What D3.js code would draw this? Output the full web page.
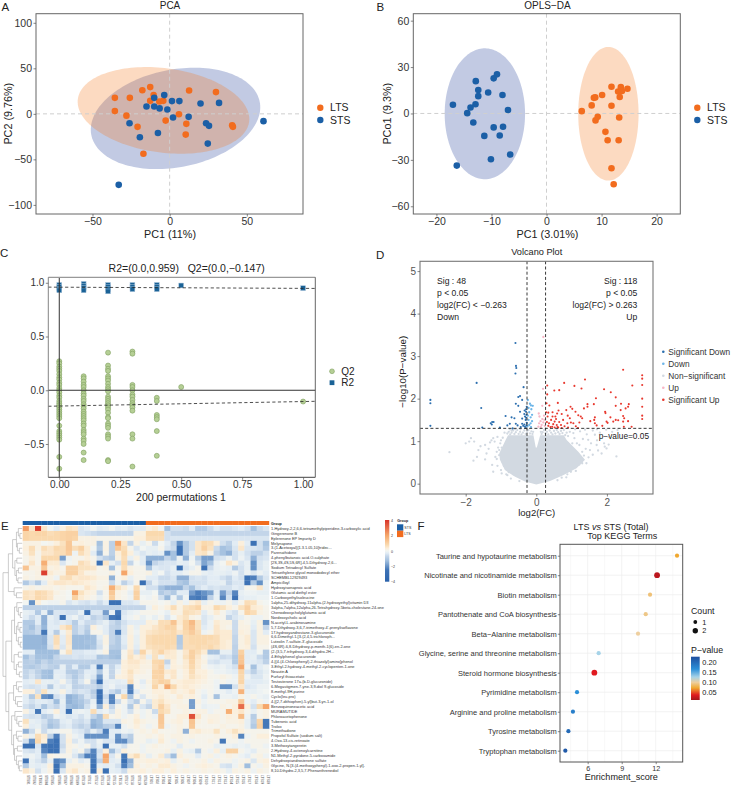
<!DOCTYPE html>
<html>
<head>
<meta charset="utf-8">
<script src="https://cdn.jsdelivr.net/npm/d3@7/dist/d3.min.js"></script>
<style>
html,body{margin:0;padding:0;background:#fff}
svg{display:block}
text{font-family:"Liberation Sans",Arial,sans-serif;fill:#222}
</style>
</head>
<body>
<svg id="fig" width="731" height="785"></svg>
<script>
// ---- PCA scores ----
const pcaLTS = [[-35.5,17.6],[-35.5,3],[-25.8,17.6],[-28,-2],[-20.8,-14.3],[-17.7,26],[-12.6,29.4],[-10.4,20.6],[-12.6,14.3],[-6.7,13.6],[-4.1,14.3],[-2.6,-7.4],[6,-0.4],[12.6,25.7],[30,23.9],[10.8,-11],[10.4,-22.8],[40.5,-12.5],[41,-14.3],[-17,-43.8]];
const pcaSTS = [[-33,-78],[-26,-10.3],[-19.3,-25.7],[-15,8],[-10,17.6],[-10,8],[-6.5,6],[-3.5,20.6],[-1.5,4.8],[1.5,14],[6.3,14],[2.2,-4],[12.3,-3.3],[-7.6,-21],[20,11.4],[32,12],[23.6,-10.3],[25.5,-13.2],[24.7,-32.7],[60.8,-8]];
// centre x, centre y, half width, half height, correlation
const pcaEllipseLTS = [-4,3.8,55.6,47.6,-0.2];
const pcaEllipseSTS = [3.8,-5,54.9,55.7,0.22];

// ---- OPLS-DA scores ----
const oplsLTS = [[6.4,1.5],[8.2,5.2],[8.6,10.1],[8.85,10.4],[10.1,11.9],[8.9,-4.5],[9.3,-2.2],[10.7,-11.9],[11.1,-17.3],[11.8,17.3],[11.8,5],[11.8,-35.4],[12.2,-45.8],[13.1,-17.3],[13.2,-2.6],[13,14.2],[13.5,17],[13.7,14.5],[13.3,10.6],[14.7,16]];
const oplsSTS = [[-17,5.6],[-16.3,-33.7],[-14.4,0.2],[-13.8,3.9],[-12.9,6],[-13.3,-5.8],[-12.85,20.9],[-12.4,15.1],[-12.4,11.2],[-11.3,-14.5],[-10.6,13.6],[-10.1,-29.6],[-9.6,-9],[-9.6,22.7],[-9,25.3],[-8.5,-14.2],[-8,11.9],[-7.9,-8.6],[-7,2.2],[-6.6,-26.5]];
const oplsEllipseLTS = [11.24,-0.2,5.48,43.2,0];
const oplsEllipseSTS = [-11.2,-0.2,7.3,42.3,0];

// ---- Permutation test ----
const q2Runs = [
 [0,[.27,.25,.22,.2,.18,.15,.12,.1,.07,.05,.02,0,-.02,-.05,-.07,-.1,-.12,-.14,-.16,-.18,-.2,-.22,-.24,-.26,-.33,-.38,-.4,-.42,-.44,-.46,-.62,-.73]],
 [.1,[.13,.11,.08,.05,.03,0,-.03,-.05,-.08,-.1,-.13,-.15,-.17,-.2,-.22,-.24,-.26,-.28,-.31,-.33,-.37,-.39,-.41,-.45,-.47,-.5,-.58,-.65]],
 [.2,[.35,.23,.2,.18,.13,.11,.09,.06,.03,.01,-.01,-.06,-.08,-.1,-.12,-.14,-.16,-.18,-.21,-.25,-.26,-.31,-.33,-.35,-.41,-.43,-.45,-.65,-.66]],
 [.3,[.36,.34,.05,.03,0,-.04,-.06,-.09,-.12,-.14,-.16,-.19,-.41,-.45,-.71]],
 [.4,[-.07,-.1,-.23,-.25,-.27,-.38,-.61]],
 [.5,[.03]],
 [1,[-.105]]
];
const r2Runs = [
 [0,[.98,.96,.94,.93]],[.1,[.99,.97,.95,.93]],[.2,[.98,.96,.94,.92]],[.3,[.98,.96,.94]],[.4,[.98,.96,.94]],[.5,[.975]],[1,[.95]]
];
const r2Fit = [[0,.959],[1,.948]];
const q2Fit = [[0,-.147],[1,-.105]];

// ---- Volcano ----
const sigDown = [[-3,1.97],[-3,1.89],[-3,1.36],[-1.69,2.37],[-1.56,1.78],[-1.53,1.32],[-1.29,1.42],[-1.25,1.45],[-1.21,1.45],[-1.26,1.39],[-1.03,1.32],[-.87,1.59],[-.82,1.37],[-.75,1.41],[-.67,1.3],[-.7,1.56],[-.59,3.31],[-.575,2.77],[-.566,2.72],[-.59,2.59],[-.36,2.27],[-.46,2.06],[-.51,2.04],[-.58,1.88],[-.51,1.83],[-.4,1.97],[-.62,1.54],[-.58,1.41],[-.53,1.37],[-.4,1.53],[-.46,1.69],[-.27,1.81],[-.29,1.69],[-.34,1.64],[-.32,1.58],[-.3,1.5],[-.34,1.39],[-.27,1.43],[-.32,1.34],[-.37,1.36],[-.28,1.62],[-.29,1.55],[-.3,1.31],[-.33,1.72],[-.29,1.75],[-.4,1.41],[-.44,1.33],[-.28,1.37]];
const lightDown = [[-.24,1.97],[-.18,1.88],[-.15,1.84],[-.1,1.83],[-.22,1.78],[-.14,1.75],[-.2,1.68],[-.12,1.62],[-.16,1.56],[-.24,1.6],[-.22,1.5],[-.12,1.47],[-.16,1.42],[-.2,1.38],[-.25,1.35],[-.15,1.33]];
const lightUp = [[.2,3.45],[.19,2.23],[.17,1.83],[.07,1.65],[.09,1.58],[.17,1.52],[.22,1.6],[.12,1.47],[.08,1.42],[.2,1.44],[.15,1.38],[.24,1.36],[.06,1.34],[.13,1.33],[.23,1.5]];
const sigUp = [[3,2.55],[3,2.47],[3,2.32],[3,2],[3,1.81],[3,1.6],[3,1.52],[2.46,2.68],[1.38,2.45],[.79,2.37],[.31,2.31],[1.08,2.3],[1.28,2.24],[2.72,2.31],[1.92,2.22],[2.11,2.15],[.31,2.1],[.51,2.19],[.65,2.2],[1.69,2.01],[2.25,2.03],[.29,1.89],[.61,1.9],[.37,1.84],[.97,1.81],[1.02,1.76],[2.4,1.88],[2.62,1.87],[2.6,1.81],[2.53,1.77],[2.25,1.83],[1.45,1.87],[1.45,1.81],[1.63,1.87],[1.35,1.77],[.63,1.72],[.85,1.73],[1.95,1.69],[1.96,1.66],[1.11,1.69],[2.39,1.73],[.28,1.68],[.34,1.67],[.46,1.68],[.59,1.65],[.32,1.58],[.46,1.58],[.54,1.58],[.72,1.64],[.89,1.6],[.95,1.54],[1.19,1.61],[1.26,1.58],[1.3,1.54],[1.66,1.56],[1.64,1.5],[1.53,1.47],[1.66,1.42],[1.71,1.37],[1.87,1.36],[1.99,1.46],[2.1,1.56],[2.02,1.43],[2.18,1.46],[2.25,1.5],[2.32,1.49],[2.46,1.59],[2.49,1.54],[2.46,1.46],[2.6,1.47],[2.48,1.34],[2.7,1.34],[.3,1.45],[.36,1.42],[.42,1.5],[.48,1.4],[.52,1.46],[.58,1.38],[.45,1.34],[.52,1.32],[.6,1.33],[.65,1.45],[.7,1.38],[.76,1.5],[.8,1.35],[.88,1.42],[.98,1.44],[1.05,1.42],[1.12,1.35],[.34,1.36],[.56,1.52],[.62,1.32],[.72,1.31],[.4,1.33],[1.22,1.44],[1.18,1.31],[.9,1.32]];
// outline of the dense part of the non-significant cloud
const cloudOutline = [[0,-.02],[-.32,.05],[-.6,.16],[-.89,.32],[-1.03,.56],[-1.05,.71],[-.89,.99],[-.8,1.14],[-.08,1.14],[-.015,.85],[.015,.85],[.11,1.14],[.78,1.14],[.86,1.03],[1.19,.75],[1.38,.56],[1.14,.36],[.76,.2],[.39,.06]];
const nonSig = [[-2.46,.74],[-2,.95],[-1.9,.99],[-1.85,1.07],[-1.76,.99],[-1.64,.79],[-1.78,.54],[-1.45,.91],[-1.41,.71],[-1.45,.57],[-1.22,.28],[-1.27,1.02],[-1.22,1.07],[-1.18,.99],[-1.05,.79],[-1.31,.97],[-1,.32],[-1.05,.67],[-1.12,.75],[-1.1,.42],[-1.12,.58],[-.98,.85],[-1.02,.95],[-.95,1.08],[-.9,1.2],[-1.1,1.1],[-.98,.24],[-.85,.22],[-.72,.12],[-.78,.27],[-.92,.42],[-.7,1.25],[-.6,1.28],[-.45,1.28],[-.25,1.27],[-.75,1.28],[-1.68,.63],[-1.35,.82],[-1.58,.88],[-1.16,.63],[-1.25,.44],
[.9,1.12],[1.08,1.07],[1.22,.91],[1.47,1.03],[1.52,.79],[1.71,.91],[1.94,.87],[1.99,.83],[1.85,.71],[2.27,.64],[1.42,.48],[1.28,.56],[1.05,1.19],[1.24,1.23],[1.43,1.16],[1.66,1.15],[1.92,.95],[1.6,1.25],[1.8,1.2],[2.05,1.1],[2.15,1.22],[1.3,.75],[1.35,.66],[1.48,.62],[1.4,.82],[1.15,.95],[1.02,.95],[.95,1.22],[.9,.95],[1.22,.45],[1.12,.3],[.98,.28],[.88,.22],[.72,.14],[1.32,1.05],[1.55,.95],[1.75,.78],[1.6,.68],[1.72,1.02],[1.1,1.28],[1.38,1.27],[1.72,1.28],[1.98,1.27],[2.3,1.26],[2.05,.92],
[-.82,1.18],[-.78,1.22],[-.74,1.16],[-.7,1.2],[-.66,1.25],[-.62,1.17],[-.58,1.21],[-.54,1.26],[-.5,1.17],[-.46,1.22],[-.42,1.16],[-.38,1.2],[-.34,1.25],[-.3,1.17],[-.26,1.21],[-.22,1.26],[-.18,1.18],[-.14,1.23],[-.11,1.17],[-.09,1.22],[.13,1.22],[.15,1.17],[.18,1.21],[.22,1.26],[.26,1.18],[.3,1.22],[.34,1.16],[.38,1.25],[.42,1.2],[.46,1.16],[.5,1.24],[.54,1.18],[.58,1.26],[.62,1.21],[.66,1.17],[.7,1.24],[.74,1.19],[.78,1.26],[.82,1.14],[.86,1.2],
[.95,.3],[1.05,.45],[1.2,.62],[1.3,.48],[.85,.15],[.6,.08],[-.48,.06],[-.65,.22],[-.82,.2],[-.95,.5],[-1.08,.85],[-1,1.02],[-.92,.62]];

// ---- Heatmap ----
const metaboliteNames = ["1-Hydroxy-2,2,6,6-tetramethylpiperidine-3-carboxylic acid","Gingerenone B","Eplerenone EP Impurity D","Melynapone","3-(1-Acetoxyal)[1.3.1.05,10]tridec...","Parenathidone","4-phenylbutanoic acid-O-sulphate","[2S,3S,4S,5S,6R]-4,5-Dihydroxy-2,6...","Sodium Tetradecyl Sulfate","Tetraethylene glycol monododecyl ether","SCHEMBL12929493","Ampicilloyl","Hydroxyisonaproic acid","Glutamic acid diethyl ester","1-Carboxyethylisoleucine","1alpha,25-dihydroxy-11alpha-(2-hydroxyethyl)vitamin D3","3alpha,7alpha,12alpha,26-Tetrahydroxy-5beta-cholestane-24-one","Chenodeoxycholylglutamic acid","Nordeoxycholic acid","N-acetyl-L-arabinosamine","5,7-Dihydroxy-3,6,7-trimethoxy-4'-prenylisoflavone","17-hydroxyandrostane-3-glucuronide","6,6-Dimethyl-1-[3-(2,4,5-trichloroph...","Luteolin 7-sulfate-3'-glucoside","(4S,6R)-6,8-Dihydroxy-p-menth-1(6)-en-2-one","(2-(3,5,7-trihydroxy-3,4-dihydro-2H...","4-Ethylphenol glucuronide","4-[(4-(4-Chlorophenyl)-2-thiazolyl)amino]phenol","3-Ethyl-2-hydroxy-4-methyl-2-cyclopenten-1-one","Neautin A","Furfuryl thioacetate","Testosterone 17a-(b-D-glucuronide)","6-Megastigmen-7-yne-3,9-diol 9-glucoside","8-methyl-9H-purine","Cyclo(leu-pro)","4-[(2,7-dithiophen)-5-yl]but-3-yn-1-ol","Benzoquinoneacetic acid","MURAMUTIDE","Phloroacetophenone","Tuberonic acid","Trolox","Trimethadione","Propofol Sulfate (sodium salt)","4-Oxo-13-cis-retinoate","3-Methoxytangeretin","2-Hydroxy-4-octenoylcarnitine","N1-Methyl-2-pyridone-5-carboxamide","Dehydroepiandrosterone sulfate","Glycine, N-[3-(4-methoxyphenyl)-1-oxo-2-propen-1-yl]-","8,10-Dihydro-2,3,5,7-Phenanthrenediol"];
const sampleNames = d3.range(1,21).map(i=>"STS"+String(i).padStart(2,"0")).concat(d3.range(1,21).map(i=>"LTS"+String(i).padStart(2,"0")));
const heatValues = [
[2.2,.5,3.8,.5,0,-.3,.2,.6,.5,-.4,-.3,0,-.3,-.2,0,-.3,-.2,-.4,-.3,-.3,.2,.4,0,-1.2,-.5,-.5,-.6,-.3,-1,-1,-.6,-.3,-.5,-.5,-.4,-.3,-.5,-1.2,-.6,-.4],
[.9,.8,.9,.9,.7,.8,.9,1,1,-.4,-.5,-.6,-.7,-.7,-.7,-.7,-.7,-.7,.2,.2,.8,.8,.8,-.5,-.7,-.7,-.7,-.7,-.7,-.7,-.7,-.7,-.7,-.7,-.7,-.7,-.7,-.7,-.7,-.7],
[.9,.8,.8,.8,.8,.8,.9,1,.9,.2,.2,.2,.1,.1,.1,.1,.1,.1,.3,.3,.7,.7,.7,-.5,-.4,-.4,-.4,-.4,-.4,-.4,-.4,-.4,-.4,-.4,-.4,-.4,-.4,-.4,-.4,-.4],
[.2,.2,.2,0,.1,.3,.6,1.2,.2,.3,.2,.2,-1.2,.2,-.8,2,.5,-.7,.2,-.2,.1,-.6,0,-.3,-.7,-2,-1,-.5,.5,.8,.7,.3,-.5,-.8,-.3,.3,-.3,-2.5,-.5,-1.2],
[.3,.7,.2,.7,.5,.8,.7,1.2,.7,1,.4,0,-1,.2,-.8,1.2,.7,.1,-.4,0,-.2,-.2,.1,-.4,-.6,-2.5,-1,-.5,.5,1,.6,-.6,-1.2,-1,-.4,.5,-.4,-.4,-.5,-1],
[.2,.6,.1,.5,.5,.7,.7,1.1,-.1,.7,.4,-.3,-1.5,.1,-.8,.3,.8,.3,-.2,-.4,-.2,-.3,-.2,-2,-1.2,-2.5,-1,-.3,.5,.6,.2,-.8,-1.2,-1.5,-.5,-.2,-.5,-.8,-.8,-.5],
[.1,.3,.1,.8,.8,.8,-1.8,-.1,.1,.1,.3,.1,-.5,-.8,-1,.2,.7,-.2,.2,-.3,-1.5,-1.5,-1.5,-.7,-1.2,-.1,-1.5,-.1,-.9,-1.8,-1.8,-.5,-.4,-.1,-.5,-.1,-.4,-1.5,-.5,-.4],
[.1,.5,.1,1.8,.4,.4,-.4,0,.1,.7,.5,.2,-2.5,.5,-.2,-.5,.8,-.7,0,-.3,-2,-.7,-.5,-.4,-.4,-.2,-.3,0,-.5,-1.7,-1.2,-.2,0,.5,.2,-.4,-.2,-2,-.4,-.2],
[1.3,.2,.2,1.2,.2,.3,.1,1,1,.6,.6,.5,.1,.2,-1.2,.1,.7,.2,.1,.1,-1.2,-.3,-.4,-.4,-.2,-2.5,-.4,-.2,.1,-2.5,-.6,-.2,-.1,-.2,-1,-.5,-.2,-2,-.4,-.2],
[.1,.1,.2,3.8,.4,.2,.2,1,1,.5,.2,.2,.1,.1,.2,0,2,.3,.1,.1,.2,-.2,0,-.5,-.3,-.3,-.1,.1,.1,-.2,-.3,-.2,-.2,-.3,-.1,-.5,-.1,-.4,-.1,-.3],
[.2,.1,.2,.1,.2,-.1,.6,.7,.4,.5,.5,.4,.2,.2,-1.5,.1,.3,-.2,.1,.1,-.3,-.3,-.6,-.6,-.4,-1.5,-1.5,-.5,-.4,-.5,-.3,-.3,-.5,-.7,-.3,-.5,-2.5,-2.3,-1,-.4],
[-1,-.5,-1,-.3,.3,.5,.5,.4,.5,.4,.3,.2,.1,.1,-.6,-.1,-.8,-.4,.1,-2.8,-.7,-.2,-.5,-.5,-.5,-1,-1.2,-.5,-.5,-.5,-.3,-.3,-.2,-.7,-.4,-.4,-2.5,-1,-2,-.2],
[.1,.2,.1,.2,.2,.1,.2,.1,.1,.1,.5,.3,.1,.2,1.8,.6,.3,0,.8,0,-.5,-.5,-1.2,-1.5,-1.5,-1.5,-.7,-1.2,-.5,-.3,-.5,-.4,-.5,-.5,-.3,-.4,.1,.1,.5,-.2],
[.6,.5,.8,.7,.5,.2,.1,0,2,.6,.3,.2,-.5,.1,1.2,.2,.1,-.2,1,-.2,-.2,0,-1,-.7,-1,-.3,-.3,-1.8,-2.3,-2,-1.7,-.3,-1.8,-.7,-2.2,-.2,-.1,-.1,-.2,-.2],
[.6,.5,.8,.7,.5,.1,.1,0,1,.4,.2,.1,-.2,.1,1,.2,.1,-.1,1,0,-.1,.1,-.5,-1.4,-.1,-1,-.1,-2.3,-2.4,-2.2,-.8,-.2,-2.2,-.5,-2.5,-.3,-.2,-.2,-.1,-.1],
[0,-2,.3,0,-.1,-.1,.1,-.4,-.2,-.4,-.5,-.3,-.6,-.3,-2.6,-2.6,-.4,-.4,-.3,.1,.1,.1,0,.1,-.2,.2,-.1,.3,.5,-.2,.1,-.1,-.1,.1,-.3,.1,.7,.6,.1,0],
[-.8,-.8,-.8,-.8,-.8,-.8,-.8,-.8,-.8,-.8,-.8,-.8,-.8,-.8,-.8,-.8,-.7,-.7,-.7,-.7,-.1,.3,.1,.3,.7,.2,.6,.7,.9,.2,.2,.8,.6,.3,.1,.6,1,.4,.3,.1],
[-.2,-.3,-1,-.2,-1.5,-.4,-.4,-.5,-.5,-.2,-2.5,-.4,-.4,-1.8,-.2,-2.4,-.4,-.2,-.1,.1,.1,.1,0,-.2,.3,.2,.7,.6,.5,-.3,.1,.4,.1,-.3,-.5,.1,.9,.7,.2,.1],
[-.3,-.6,-.3,-1.5,-.2,-.4,-2.5,-.3,-.1,-.5,-.3,-.8,-.6,-1,-2.4,-2.7,-.3,-.1,.1,-.2,0,-.2,.1,-.4,0,.4,.6,.2,.1,-.4,-.2,.1,.1,-.7,-.4,-.2,.1,-.1,-.1,.1],
[-1,-1,-.3,-1.5,-.3,-.4,-.3,-.4,-.9,-.3,-.6,-.6,-.4,-.2,-.6,-.9,-.5,-.3,-.3,-.3,.3,.2,.7,.7,1.3,.4,.9,1.5,.6,-.4,-.1,.4,.2,.2,-.6,.2,.1,-.2,.2,-2],
[-.9,-1.2,-.6,-1.4,-.3,-.3,.5,.8,-.8,-.5,-.8,.3,-.1,-.3,-.7,-.8,-.4,.2,-.2,.3,.3,.5,.7,.9,.9,.3,.9,1.3,.6,-.3,-.1,.5,.2,.1,-.6,.2,.2,-.3,.2,-.7],
[-1,-.9,-.6,-2.4,-.3,-.9,-.1,.4,-.8,-.5,-1,.1,.1,-.3,-.7,-2.3,-.4,.2,-.1,.3,.5,.6,.7,.7,.8,.5,.8,1.1,.7,-.1,.1,.5,.4,.4,-.6,.3,.2,-.4,.2,-.3],
[-1.4,-1.4,-1.4,-1.5,-.4,.7,-.3,.5,-1.3,-1.3,-1.3,-1.2,-.3,.2,-.7,-1,-.3,.3,-.2,.3,.7,.8,.8,.8,.8,-1,.7,.8,.8,.8,.8,.7,.4,.4,-.7,.2,.4,-.4,.2,.2],
[-1.4,-1.4,-1.4,-1.5,-.4,.7,-.3,.5,-1.3,-1.3,-1.2,-1.2,-.4,.2,-.7,-1,-.3,.3,-.2,.3,.7,.8,.8,.8,.8,-1,.7,.8,.8,.8,.7,.7,.4,.3,-.7,.2,.4,-.4,.2,.2],
[-1.4,-1.4,-1.4,-1.4,-.5,.5,-.4,.4,-1.3,-1.3,-1.3,-1.1,-.5,.1,-.9,-1,-.4,.3,-.3,.3,.6,.7,.7,.8,.7,-.9,.7,.7,.8,.7,.8,.6,.4,.3,-.8,.2,.3,-.5,.1,.1],
[-.3,-.3,-1.3,-1.3,-1.3,-1.3,.1,.6,-.4,-.4,-.3,-.3,-.1,.2,-1.2,-1.2,.1,.5,-.5,.9,.3,.6,.9,.5,.4,.1,.5,1,.7,.4,-1.2,-1.2,-.2,-.2,-.8,1,-.3,-.3,0,-1],
[-1.2,-.7,-1.2,-1.2,-1.3,-.7,-.5,-.5,-.4,-.5,-.4,-.4,-1.1,-1,-1.2,-1.3,.1,.6,.3,.5,-.2,.6,-.1,.4,.4,.1,.6,1,.5,.1,-.2,-.3,-.6,-.5,-1,1.2,-.3,-.2,-.6,-1],
[-.9,-.8,-1.1,-.7,-1,-.8,-.8,-.8,-.8,-.8,-.8,-.8,-.8,-.8,-.8,-.8,.3,.5,.5,.3,.2,.8,.9,-.7,.3,.1,.4,.9,.4,.2,-.4,-.5,-.3,-.3,-1,1.3,-.3,-.3,-.4,-.8],
[-.9,-1,-.8,-.6,-.8,-.9,-.2,-.8,-.3,-1,-1,-.3,-2.3,-.2,-.7,-.3,.3,.4,.4,.2,.2,.7,1,-.3,.3,.2,.4,.8,.4,.1,-.1,-.2,-.1,-.3,-.5,1.9,-.1,-1.2,-.3,-.1],
[-.7,-.5,-.8,-1.2,-1.3,-.3,-.3,-.9,-1,-.7,-.3,-.3,-1,-.1,-.7,-.1,.3,.6,.3,.2,.1,.9,1,.4,.5,.1,.3,.7,.3,.3,.1,-.1,-.1,-.2,-.3,.9,-.4,-.8,-.4,-.2],
[-.7,-.4,-.7,-1.2,-1.3,-.2,-.3,-.6,-1,-.6,-.2,-.4,-1.8,-.1,-.7,.2,.3,.5,.1,.1,.1,.9,.9,.2,.5,.1,.3,.6,.4,.3,.1,.1,.2,.1,-.1,.8,-.1,-.4,-.4,-.1],
[-.3,-.2,.5,-.2,-.2,-.3,.1,-.4,-.8,-.4,.1,-.8,-2.5,-.3,-.2,-.3,-.2,.7,.1,-.3,.2,.7,1,.9,.2,.3,.4,.4,.3,.2,.1,-.1,.1,-.1,-.1,.9,-.3,-.3,-.3,-.2],
[-.4,-.5,-.4,-.3,-1,-.2,-.4,-.2,-.8,-.7,-.6,-.6,-.9,-.3,-.1,-.4,-.4,-2.2,.1,-.1,.1,.9,.3,1.9,.8,.3,.4,.3,.2,.1,.1,-.1,-2,-2,-.5,.5,-.4,-.3,-.1,-.1],
[.3,.3,-.5,.6,-.2,-.2,.2,-.3,-.6,-.4,-.5,-.9,-2.5,-.3,-.6,-1,-.3,-2.3,-.3,.1,.1,.3,.3,.2,.4,.2,.3,.5,.1,-.1,.1,-.1,-.1,-.3,-.1,1.7,-.2,-.2,-.1,0],
[-.3,-1,.6,-2,-2.2,-.5,-.3,-1.5,-1.3,-.9,-.4,-.7,-2.5,-.6,-2.2,.1,.8,-1.2,.1,-.4,.1,.2,.4,.2,.1,.4,.2,.3,.1,-.3,.1,-1.2,-.1,-.1,-.2,.2,-.1,.1,-.1,-.2],
[-.3,-.5,-.3,-.3,-.4,-1.3,-.2,-1.5,-1.3,-1.1,-.7,-.2,-2.4,-.4,-2.2,-.6,.1,-.5,-.9,.1,-.4,.4,.6,.3,.2,.2,.1,-1.8,.2,-.1,.1,.1,.1,.2,.2,1.2,-.1,-.3,.1,-.1],
[-.5,-.7,-.4,-1.1,-.5,-.7,-.3,-1.3,-1.4,-1.2,-.5,-.1,-1.5,.3,-.7,.1,-.1,-1,.2,-.4,-.7,.4,1,.5,.1,.2,.2,-1.8,.1,-.2,-.1,-.1,.2,.1,.3,3,.3,-.5,.8,2],
[.2,-.3,-2.4,-.3,-.1,.3,-.3,-2.6,-.2,-.1,-.2,.7,-.3,-.1,-.4,.2,-.1,-.5,.1,-.1,.1,-.6,.8,.6,.1,.1,.2,.1,.2,.2,-.1,.1,.1,1.8,.3,.5,.1,-.2,.1,.2],
[-.4,-.5,-.4,-.9,-.7,-.1,-.2,-.4,-.3,-.5,-.2,-.7,-1.2,.7,.1,.2,-.1,.1,.3,-.1,.1,-.1,1.2,.1,.1,.3,.3,3.5,.5,.1,.2,.2,.1,.3,.2,1.5,-.1,-.9,.1,.2],
[.6,-.2,-.3,-.5,-1,-.8,-.3,-.2,-.5,-.6,-.4,-1.4,-1.2,-.4,-.4,-.4,.2,.1,.4,.2,.1,.1,1.2,.1,.2,.3,.1,1.3,.2,.1,.3,.2,.1,.2,.2,.3,-.2,-.8,.9,-2.4],
[.3,-.3,-.2,-.6,-1.2,-.9,-.4,-.3,-.6,-.8,-.6,-1.5,-1.3,-.9,-.8,-2.2,-.1,.1,.3,.1,-.1,.1,1.1,-.1,.1,.2,.1,1.2,.1,.1,.1,.1,.2,.1,.1,.2,-.2,-1,1,-2.4],
[-1.5,-.6,.1,-.6,-.2,-.1,.1,.1,-.3,-.4,-.7,-.2,-.6,-2.3,-.3,-.3,-.1,-.2,.1,.2,.1,.3,.1,.1,.1,.2,-1.5,.3,.4,.2,.2,.6,.1,.3,.6,.3,.1,.1,.1,.1],
[.2,-.2,.7,.4,-.8,-2.3,-.5,.2,-.1,-.3,-2,-2,-2,-2,-.3,-2,-.6,-.9,.1,.1,.2,.1,.3,.1,.2,.2,.1,.2,.1,.1,.1,.2,.1,.1,.3,-2.2,-.1,.1,.3,.3],
[-.5,-2,.8,.3,-2.3,-2.5,-.5,.3,-.4,-.1,-.5,-.5,-.1,-.4,-.4,-2.1,-2.1,-1,.1,.1,-.2,-.1,.4,.1,-.1,.2,.1,-.1,.1,.1,.2,.1,-2.4,.1,.1,-.1,.1,.1,.1,.1],
[-2.6,-2.6,-.4,-2.4,-2.5,-2.5,-.6,.2,.1,-.1,.1,-.5,-.2,-2.5,-.2,-.2,-.5,.1,.1,-.1,.1,.2,.1,.1,.1,-.3,.1,.1,.1,.1,.1,-.2,-.1,-.1,-.2,-.1,-.2,.1,.1,-.1],
[-.4,-.5,-.3,-2.2,-2.6,-2.6,-.4,.2,-.2,.1,-.8,-2.2,-.5,.3,-1.3,-.4,.3,.1,.1,-.1,.1,.1,.1,.2,-.2,.2,-.1,-.2,-1,.1,-.1,.3,-.2,1,1,.1,-.1,-.3,.1,.1],
[-.2,-.1,-.3,-1.3,.2,.1,.1,.1,-.4,-1.2,-2.3,-2.3,-.4,2,-.4,.1,-2.4,.4,.7,.2,-.2,.1,.4,-.5,-1.3,.3,.1,.1,-.3,.1,.2,-.1,.1,.2,.1,-.1,-.3,.1,.2,-.1],
[-2.5,-.2,-.4,-.8,-.2,-2.3,-2,-.2,.1,-.3,-.1,-2.4,-.7,1.8,-.3,-.2,-2.6,-1.5,.2,.2,.3,.3,.2,.3,-.2,.1,.3,.1,.1,.2,-.1,.2,.1,.1,-.1,.1,.2,-.4,.2,.3],
[-1,-.2,-.3,-.2,.3,-2.6,-1.4,.2,.2,.2,.1,-2.5,-.2,-.3,-.2,-.5,-2.3,-1.3,.3,.1,.2,.1,.4,.4,.2,.1,-.1,.1,.2,.3,.2,.1,-.4,-.5,-.1,.2,-1.3,.1,-.1,.2],
[.5,.2,-.5,-.1,.2,-2.6,-.4,.3,.5,.1,.2,-2.5,.3,-2.6,-.2,-.3,-.6,.2,.2,.3,.1,.3,.3,.1,.3,.1,.2,.1,.1,.2,.1,.2,.1,-.2,.2,.1,.2,-.1,.2,.1]
];
const heatStops = [-4,-2.5,-1.3,-.7,-.3,0,.3,.8,2,4];
const heatColors = ["#2a62ab","#3d72b5","#a0bede","#c3d5e9","#e2ecf4","#f2f5f2","#fbefdc","#fad9ae","#f5a66a","#d8342a"];
// merge tree of the rows: [merge height, left, right]; numbers are row indices
const rowTree = [1,
 [.72,
  [.5,[.3,[.2,0,[.12,1,2]],[.25,3,[.15,4,5]]],[.38,[.28,6,7],[.3,[.2,8,9],[.22,10,11]]]],
  [.42,12,[.3,13,14]]],
 [.85,
  [.55,[.4,[.28,15,[.2,16,[.1,17,18]]],[.3,[.22,19,[.12,20,21]],[.2,22,[.1,23,24]]]],[.42,[.2,25,26],[.3,[.2,27,28],[.15,29,30]]]],
  [.7,[.45,[.3,31,[.2,32,33]],[.35,34,[.25,35,36]]],[.55,[.38,37,[.28,38,[.18,39,40]]],[.45,[.3,41,[.22,42,43]],[.4,[.25,44,45],[.3,46,[.2,47,[.15,48,49]]]]]]]]
];

// ---- KEGG enrichment ----
const keggTerms = ["Taurine and hypotaurine metabolism","Nicotinate and nicotinamide metabolism","Biotin metabolism","Pantothenate and CoA biosynthesis","Beta\u2212Alanine metabolism","Glycine, serine and threonine metabolism","Steroid hormone biosynthesis","Pyrimidine metabolism","Arginine and proline metabolism","Tyrosine metabolism","Tryptophan metabolism"];
const keggScore = [13.88,12.12,11.5,11.12,10.44,6.97,6.59,5.06,4.7,4.3,4.03];
const keggPValue = [.07,.02,.088,.092,.098,.125,.035,.165,.18,.2,.215];
const keggCount = [1,2,1,1,1,1,2,1,1,1,1];
const pStops = [.01,.035,.07,.098,.125,.165,.2265];
const pColors = ["#a3161c","#e0191f","#f0a830","#eecf9f","#a6d3e8","#2b8fd8","#1f4e9e"];

const ORANGE = "#f26c1e", BLUE = "#1b5fa6";
const svg = d3.select("#fig");

function put(g,x,y,s,o={}){
  const t = g.append("text").attr("x",x).attr("y",y).text(s)
    .attr("font-size",o.size||10).attr("text-anchor",o.anchor||"start");
  if(o.fill) t.style("fill",o.fill);
  if(o.weight) t.attr("font-weight",o.weight);
  if(o.rotate) t.attr("transform",`rotate(${o.rotate} ${x} ${y})`);
  return t;
}
function axes(g,x,y,box,o={}){
  const col = o.color||"#333", size=o.size||10;
  const ax = g.append("g").attr("transform",`translate(0,${box[3]})`)
    .call(d3.axisBottom(x).tickValues(o.xt).tickFormat(o.xf||d3.format("d")).tickSize(2.5).tickPadding(o.xpad||2));
  const ay = g.append("g").attr("transform",`translate(${box[0]},0)`)
    .call(d3.axisLeft(y).tickValues(o.yt).tickFormat(o.yf||d3.format("d")).tickSize(2.5).tickPadding(1.5));
  [ax,ay].forEach(a=>{
    a.select(".domain").remove();
    a.selectAll("line").attr("stroke","#555").attr("stroke-width",.7);
    a.selectAll("text").attr("font-size",size).style("fill",col).style("font-family",'"Liberation Sans",Arial,sans-serif');
  });
}
function frame(g,box,stroke="#666",w=1){
  g.append("rect").attr("x",box[0]).attr("y",box[1]).attr("width",box[2]-box[0]).attr("height",box[3]-box[1])
    .attr("fill","none").attr("stroke",stroke).attr("stroke-width",w);
}
function ellipse(g,e,x,y,fill,op){
  const [cx,cy,a,b,r] = e, phi = Math.acos(r);
  const line = d3.line().x(t=>x(cx+a*Math.cos(t))).y(t=>y(cy+b*Math.cos(t-phi))).curve(d3.curveLinearClosed);
  g.append("path").attr("d",line(d3.range(0,2*Math.PI,.04))).attr("fill",fill).attr("fill-opacity",op);
}
function scorePanel(cfg){
  const g = svg.append("g"), box=cfg.box;
  const x = d3.scaleLinear().domain(cfg.xd).range([box[0],box[2]]);
  const y = d3.scaleLinear().domain(cfg.yd).range([box[3],box[1]]);
  ellipse(g,cfg.ellSTS,x,y,"#3953a4",.31);
  ellipse(g,cfg.ellLTS,x,y,"#f47a1f",.28);
  const guide = (a,b,c,d)=>g.append("line").attr("x1",a).attr("y1",b).attr("x2",c).attr("y2",d)
    .attr("stroke","#cfcfcf").attr("stroke-width",1).attr("stroke-dasharray","4,3");
  guide(box[0],y(0),box[2],y(0)); guide(x(0),box[1],x(0),box[3]);
  [[cfg.lts,ORANGE],[cfg.sts,BLUE]].forEach(([d,c])=>{
    g.append("g").selectAll("circle").data(d).join("circle")
      .attr("cx",p=>x(p[0])).attr("cy",p=>y(p[1])).attr("r",3.3).attr("fill",c);
  });
  frame(g,box);
  axes(g,x,y,box,{xt:cfg.xt,yt:cfg.yt,size:10.5,xpad:1.5});
  put(g,cfg.tx,9,cfg.title,{anchor:"middle",size:10});
  put(g,cfg.tx,237.5,cfg.xlab,{anchor:"middle",size:10.8});
  put(g,cfg.yx,113.7,cfg.ylab,{anchor:"middle",size:10.8,rotate:-90});
  [["LTS",ORANGE,107.7],["STS",BLUE,120]].forEach(([n,c,yy])=>{
    g.append("circle").attr("cx",cfg.lx).attr("cy",yy).attr("r",3.2).attr("fill",c);
    put(g,cfg.lx+9.8,yy+3.7,n,{size:10.5});
  });
}
// Panel A
scorePanel({box:[36,13.7,303,214],xd:[-86.6,86.4],yd:[-110,110],lts:pcaLTS,sts:pcaSTS,ellLTS:pcaEllipseLTS,ellSTS:pcaEllipseSTS,
  xt:[-50,0,50],yt:[-100,-50,0,50,100],title:"PCA",xlab:"PC1 (11%)",ylab:"PC2 (9.76%)",tx:170,yx:12.5,lx:320.3});
// Panel B
scorePanel({box:[413.3,13.7,680.3,214],xd:[-24.2,24.3],yd:[-65,64.5],lts:oplsLTS,sts:oplsSTS,ellLTS:oplsEllipseLTS,ellSTS:oplsEllipseSTS,
  xt:[-20,-10,0,10,20],yt:[-60,-30,0,30,60],title:"OPLS\u2212DA",xlab:"PC1 (3.01%)",ylab:"PCo1 (9.3%)",tx:547.5,yx:391.5,lx:697.3});

// Panel C
(function(){
  const g = svg.append("g"), box=[48.3,277.3,315.3,477.3];
  const x = d3.scaleLinear().domain([-.045,1.05]).range([box[0],box[2]]);
  const y = d3.scaleLinear().domain([-.81,1.051]).range([box[3],box[1]]);
  const q = q2Runs.flatMap(([a,v])=>v.map(b=>[a,b]));
  const r = r2Runs.flatMap(([a,v])=>v.map(b=>[a,b]));
  g.append("g").selectAll("circle").data(q).join("circle")
    .attr("cx",p=>x(p[0])).attr("cy",p=>y(p[1])).attr("r",2.5)
    .attr("fill","#b5cf95").attr("stroke","#7f9f60").attr("stroke-width",.6);
  g.append("g").selectAll("rect").data(r).join("rect")
    .attr("x",p=>x(p[0])-2.4).attr("y",p=>y(p[1])-2.4).attr("width",4.8).attr("height",4.8)
    .attr("fill","#1a6296").attr("stroke","#a9c4dc").attr("stroke-width",.5);
  const l = d3.line().x(p=>x(p[0])).y(p=>y(p[1]));
  const full = f=>[[x.domain()[0],f[0][1]+(x.domain()[0])*(f[1][1]-f[0][1])],[...f[0]],[x.domain()[1],f[0][1]+x.domain()[1]*(f[1][1]-f[0][1])]];
  [r2Fit,q2Fit].forEach(f=>g.append("path").attr("d",l(full(f))).attr("fill","none").attr("stroke","#222").attr("stroke-width",.8).attr("stroke-dasharray","3.2,2.4"));
  g.append("line").attr("x1",box[0]).attr("x2",box[2]).attr("y1",y(0)).attr("y2",y(0)).attr("stroke","#333").attr("stroke-width",1);
  g.append("line").attr("x1",x(0)).attr("x2",x(0)).attr("y1",box[1]).attr("y2",box[3]).attr("stroke","#333").attr("stroke-width",1);
  g.append("line").attr("x1",box[0]).attr("x2",box[2]).attr("y1",box[1]).attr("y2",box[1]).attr("stroke","#999").attr("stroke-width",1.3);
  g.append("line").attr("x1",box[2]).attr("x2",box[2]).attr("y1",box[1]).attr("y2",box[3]).attr("stroke","#555").attr("stroke-width",.9);
  g.append("line").attr("x1",box[0]).attr("x2",box[0]).attr("y1",box[1]).attr("y2",box[3]).attr("stroke","#777").attr("stroke-width",.9);
  g.append("line").attr("x1",box[0]).attr("x2",box[2]).attr("y1",box[3]).attr("y2",box[3]).attr("stroke","#444").attr("stroke-width",1);
  axes(g,x,y,box,{xt:[0,.25,.5,.75,1],yt:[-.5,0,.5,1],xf:d3.format(".2f"),yf:d3.format(".1f"),size:10,xpad:1.5});
  put(g,186.7,271.7,"R2=(0.0,0.959)   Q2=(0.0,\u22120.147)",{anchor:"middle",size:10.5}).style("white-space","pre");
  put(g,181,500.5,"200 permutations 1",{anchor:"middle",size:10.5});
  g.append("circle").attr("cx",332).attr("cy",371.3).attr("r",2.4).attr("fill","#b5cf95").attr("stroke","#7f9f60").attr("stroke-width",.6);
  g.append("rect").attr("x",329.6).attr("y",380.3).attr("width",4.8).attr("height",4.8).attr("fill","#1a6296");
  put(g,341.3,375,"Q2",{size:10}); put(g,341.3,386.4,"R2",{size:10});
})();

// Panel D
(function(){
  const g = svg.append("g"), box=[420,261.3,653,494];
  const x = d3.scaleLinear().domain([-3.294,3.306]).range([box[0],box[2]]);
  const y = d3.scaleLinear().domain([-.243,5.23]).range([box[3],box[1]]);
  const grey="#d2d9e1";
  g.append("path").attr("d",d3.line().x(p=>x(p[0])).y(p=>y(p[1])).curve(d3.curveLinearClosed)(cloudOutline)).attr("fill",grey);
  const dots=(d,c,r)=>g.append("g").selectAll("circle").data(d).join("circle")
    .attr("cx",p=>x(p[0])).attr("cy",p=>y(p[1])).attr("r",r).attr("fill",c);
  dots(nonSig,grey,1.15);
  dots(lightUp,"#f7b6c6",1.15); dots(lightDown,"#6eb6e8",1.15);
  dots(sigDown,"#2c6faf",1.05); dots(sigUp,"#e8392f",1.05);
  const dash=(a,b,c,d)=>g.append("line").attr("x1",a).attr("y1",b).attr("x2",c).attr("y2",d).attr("stroke","#222").attr("stroke-width",.9).attr("stroke-dasharray","3,2.2");
  dash(x(-.263),box[1],x(-.263),box[3]); dash(x(.263),box[1],x(.263),box[3]); dash(box[0],y(1.301),box[2],y(1.301));
  frame(g,box,"#777",1.1);
  axes(g,x,y,box,{xt:[-2,0,2],yt:[0,1,2,3,4,5],size:10,color:"#555",xpad:2});
  put(g,536.7,255,"Volcano Plot",{anchor:"middle",size:9.2});
  put(g,536.7,516,"log2(FC)",{anchor:"middle",size:9.5});
  put(g,406,371.7,"\u2212log10(P\u2212value)",{anchor:"middle",size:9.8,rotate:-90});
  ["Sig : 48","p < 0.05","log2(FC) < \u22120.263","Down"].forEach((t,i)=>put(g,437,[284,295.7,307.7,320][i],t,{size:8.6}));
  ["Sig : 118","p < 0.05","log2(FC) > 0.263","Up"].forEach((t,i)=>put(g,637.3,[284,295.7,307.7,320][i],t,{size:8.6,anchor:"end"}));
  put(g,649,439,"p\u2212value=0.05",{size:8.3,anchor:"end"});
  [["Significant Down","#2c6faf"],["Down","#6eb6e8"],["Non\u2212significant",grey],["Up","#f7b6c6"],["Significant Up","#e8392f"]].forEach(([n,c],i)=>{
    const yy=351.7+12*i;
    g.append("circle").attr("cx",663.3).attr("cy",yy).attr("r",1.3).attr("fill",c);
    put(g,668.3,yy+2.8,n,{size:8.3,fill:"#333"});
  });
})();

// Panel E
(function(){
  const g = svg.append("g"), L=22.7,R=269,T=526,B=773.3;
  const x = d3.scaleBand().domain(sampleNames).range([L,R]);
  const y = d3.scaleBand().domain(metaboliteNames).range([T,B]);
  const color = d3.scaleLinear().domain(heatStops).range(heatColors).clamp(true);
  heatValues.forEach((row,i)=>{
    g.append("g").selectAll("rect").data(row).join("rect")
      .attr("x",(v,j)=>x(sampleNames[j])).attr("y",y(metaboliteNames[i]))
      .attr("width",x.bandwidth()+.3).attr("height",y.bandwidth()+.3).attr("fill",v=>color(v));
  });
  g.append("g").selectAll("rect").data(sampleNames).join("rect")
    .attr("x",d=>x(d)).attr("y",521).attr("width",x.bandwidth()+.2).attr("height",4)
    .attr("fill",d=>d.startsWith("STS")?BLUE:ORANGE);
  put(g,271,524.6,"Group",{size:3.6,weight:"bold"});
  metaboliteNames.forEach(n=>put(g,271,y(n)+y.bandwidth()/2+1.2,n,{size:3.9,fill:"#333"}));
  sampleNames.forEach(n=>{
    const cx=x(n)+x.bandwidth()/2+1;
    put(g,cx,775,n,{size:3.2,rotate:90,fill:"#555"});
  });
  // row dendrogram
  const root = d3.hierarchy(rowTree,d=>Array.isArray(d)?d.slice(1):null);
  const hx = d3.scaleLinear().domain([0,1]).range([22.2,3]);
  const pos = n=>{
    if(!n.children){n.py=y(metaboliteNames[n.data])+y.bandwidth()/2;n.px=hx(0);return;}
    n.children.forEach(pos);
    n.py=d3.mean(n.children,c=>c.py); n.px=hx(n.data[0]);
  };
  pos(root);
  const p=d3.path();
  root.each(n=>{ if(n.children){
    n.children.forEach(c=>{p.moveTo(n.px,n.py);p.lineTo(n.px,c.py);p.lineTo(c.px,c.py);});
  }});
  g.append("path").attr("d",p.toString()).attr("fill","none").attr("stroke","#9a9a9a").attr("stroke-width",.5);
  // colour bar
  const defs=svg.append("defs"), grad=defs.append("linearGradient").attr("id","heatBar").attr("x1",0).attr("x2",0).attr("y1",1).attr("y2",0);
  heatStops.forEach((s,i)=>grad.append("stop").attr("offset",(s+4)/8).attr("stop-color",heatColors[i]));
  g.append("rect").attr("x",385).attr("y",520).attr("width",4.3).attr("height",61.7).attr("fill","url(#heatBar)");
  const by=d3.scaleLinear().domain([-4,4]).range([581.7,521]);
  [4,2,0,-2,-4].forEach(v=>put(g,391,by(v)+1.3,d3.format("d")(v),{size:3.6,fill:"#333"}));
  put(g,397.3,522,"Group",{size:3.6,weight:"bold"});
  [["STS",BLUE],["LTS",ORANGE]].forEach(([n,c],i)=>{
    g.append("rect").attr("x",397).attr("y",524.3+6.4*i).attr("width",6.3).attr("height",6.4).attr("fill",c);
    put(g,404.3,528.8+6.4*i,n,{size:3.6,fill:"#333"});
  });
})();

// Panel F
(function(){
  const g = svg.append("g"), box=[560,544.3,682.7,762];
  const x = d3.scaleLinear().domain([3.56,14.38]).range([box[0],box[2]]);
  const y = d3.scalePoint().domain(keggTerms).range([555.7,750.7]);
  const color = d3.scaleLinear().domain(pStops).range(pColors).clamp(true);
  const size = d3.scaleOrdinal().domain([1,2]).range([2.1,2.9]);
  x.ticks(20).filter(v=>v%1.5===0).forEach(v=>{
    g.append("line").attr("x1",x(v)).attr("x2",x(v)).attr("y1",box[1]).attr("y2",box[3])
      .attr("stroke","#eeeeee").attr("stroke-width",v%3===0?.7:.4);
  });
  keggTerms.forEach(t=>g.append("line").attr("x1",box[0]).attr("x2",box[2]).attr("y1",y(t)).attr("y2",y(t)).attr("stroke","#eeeeee").attr("stroke-width",.7));
  g.append("g").selectAll("circle").data(keggTerms).join("circle")
    .attr("cx",(d,i)=>x(keggScore[i])).attr("cy",d=>y(d))
    .attr("r",(d,i)=>size(keggCount[i])).attr("fill",(d,i)=>color(keggPValue[i]));
  frame(g,box,"#555",1);
  const ax=g.append("g").attr("transform",`translate(0,${box[3]})`).call(d3.axisBottom(x).tickValues([6,9,12]).tickSize(2.2).tickPadding(1.5));
  const ay=g.append("g").attr("transform",`translate(${box[0]},0)`).call(d3.axisLeft(y).tickSize(2.2).tickPadding(1));
  [ax,ay].forEach(a=>{a.select(".domain").remove();a.selectAll("line").attr("stroke","#555").attr("stroke-width",.7);
    a.selectAll("text").style("font-family",'"Liberation Sans",Arial,sans-serif').style("fill","#333");});
  ax.selectAll("text").attr("font-size",7.2);
  ay.selectAll("text").attr("font-size",7.5);
  const tl=put(g,611,529.7,"LTS ",{anchor:"middle",size:9});
  tl.append("tspan").attr("font-style","italic").text("vs");
  tl.append("tspan").text(" STS (Total)");
  put(g,622.3,539.3,"Top KEGG Terms",{anchor:"middle",size:9});
  put(g,621.3,779.7,"Enrichment_score",{anchor:"middle",size:9.1});
  put(g,691,614,"Count",{size:8.8});
  [[1,622],[2,630.7]].forEach(([c,yy])=>{
    g.append("circle").attr("cx",695.3).attr("cy",yy).attr("r",size(c)-.2).attr("fill","#111");
    put(g,702.3,yy+2.6,String(c),{size:7.4});
  });
  put(g,691,653.3,"P\u2212value",{size:8.8});
  const grad=svg.select("defs").append("linearGradient").attr("id","pBar").attr("x1",0).attr("x2",0).attr("y1",1).attr("y2",0);
  pStops.forEach((s,i)=>grad.append("stop").attr("offset",(s-.01)/(.2265-.01)).attr("stop-color",pColors[i]));
  g.append("rect").attr("x",691).attr("y",656.7).attr("width",8.7).attr("height",43.3).attr("fill","url(#pBar)");
  const py=d3.scaleLinear().domain([.05,.2]).range([692,662]);
  [.2,.15,.1,.05].forEach(v=>put(g,702.3,py(v)+2.6,d3.format(".2f")(v),{size:7.4}));
})();

// Panel letters
[["A",1.5,11],["B",376.5,11],["C",0,257],["D",376,258.5],["E",1,530],["F",417.5,530]].forEach(([t,x,y])=>put(svg,x,y,t,{size:11.5}));
</script>
</body>
</html>
